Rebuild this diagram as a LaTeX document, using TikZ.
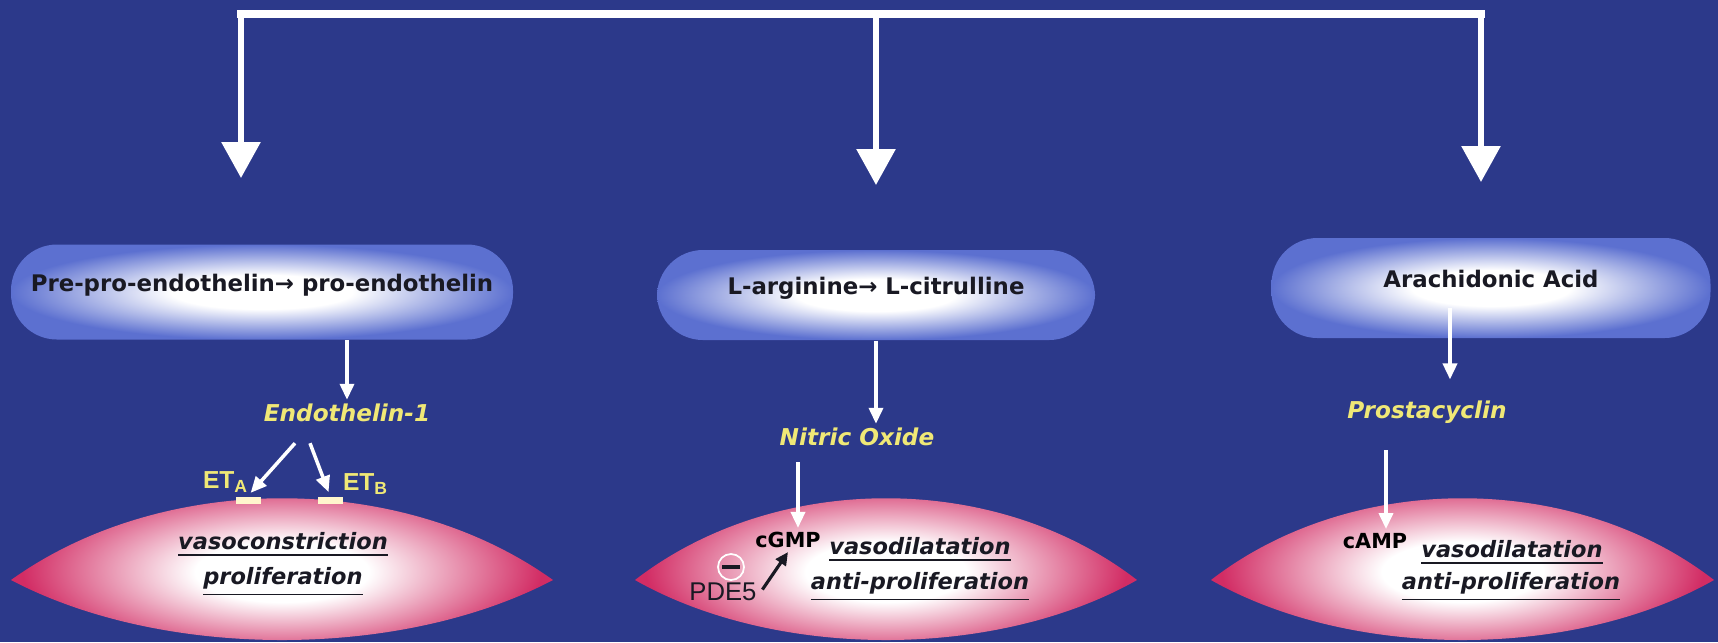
\documentclass[tikz,border=0pt]{standalone}
\usepackage{fontspec}
\setmainfont{DejaVu Sans}
\newfontfamily\arialf{Liberation Sans}
\usetikzlibrary{arrows.meta}

\definecolor{fond}{RGB}{44,57,138}
\definecolor{bleupil}{RGB}{92,112,208}
\definecolor{rose}{RGB}{210,44,100}
\definecolor{jaune}{RGB}{240,232,118}
\definecolor{creme}{RGB}{255,246,205}
\definecolor{encre}{RGB}{25,25,35}

\pgfdeclareradialshading{pilule}{\pgfpoint{0bp}{0bp}}{color(0bp)=(white); color(9bp)=(white); color(25bp)=(bleupil); color(50bp)=(bleupil)}
\pgfdeclareradialshading{lentille}{\pgfpoint{0bp}{-2bp}}{color(0bp)=(white); color(8bp)=(white); color(24bp)=(rose); color(50bp)=(rose)}

\begin{document}
\begin{tikzpicture}[x=0.1mm,y=-0.1mm,
  pil/.style={shade,shading=pilule,rounded corners=4.6mm,text=encre,
    font=\fontsize{6.5}{7}\selectfont\bfseries,text height=1.8mm,text depth=2mm},
  jaun/.style={text=jaune,inner sep=1pt,font=\fontsize{6.6}{7}\selectfont\bfseries\itshape},
  eff/.style={text=encre,inner sep=1pt,font=\fontsize{6.4}{7}\selectfont\bfseries\itshape},
  msg/.style={text=black,inner sep=1pt,font=\fontsize{5.9}{6}\selectfont\bfseries},
  lab/.style={text=encre,inner sep=1pt,font=\arialf\fontsize{7.3}{8}\selectfont},
  et/.style={text=jaune,inner sep=1pt,font=\arialf\fontsize{7}{8}\selectfont\bfseries},
  recep/.style={fill=creme,minimum width=2.5mm,minimum height=0.7mm,inner sep=0pt},
  moins/.style={circle,draw=white,line width=0.5pt,minimum size=2.6mm,inner sep=0pt,text=encre},
  gros/.style={white,line width=1.7pt,->,>={Triangle[width=3.8mm,length=3.6mm]}},
  fl/.style={white,line width=1pt,->,>={Triangle[width=1.4mm,length=1.6mm]}},
  noir/.style={encre,line width=0.9pt,->,>={Triangle[width=1.2mm,length=1.3mm]}}]

\useasboundingbox (0,0) rectangle (1718,642);
%fond
\fill[fond] (0,0) rectangle (1718,642);

%les trois voies
\coordinate (hg) at (241,14);
\coordinate (hm) at (876,14);
\coordinate (hd) at (1481,14);
\coordinate (tg) at (241,178);
\coordinate (tm) at (876,185);
\coordinate (td) at (1481,182);
\draw[white,line width=2.5pt,line cap=rect] (hg) -- (hd);
\draw[gros] (hg) -- (tg);
\draw[gros] (hm) -- (tm);
\draw[gros] (hd) -- (td);

%cellules
\shade[shading=lentille] (11,580) .. controls (163,471) and (401,471) .. (553,580) .. controls (401,660) and (163,660) .. cycle;
\shade[shading=lentille] (635,580) .. controls (776,471) and (996,471) .. (1137,580) .. controls (996,660) and (776,660) .. cycle;
\shade[shading=lentille] (1211,580) .. controls (1352,471) and (1573,471) .. (1714,580) .. controls (1573,660) and (1352,660) .. cycle;

%endotheline
\node[pil,minimum width=50.2mm,minimum height=9.5mm] (pre) at (262,292) {Pre-pro-endothelin→ pro-endothelin};
\node[jaun] (endo) at (347,413) {Endothelin-1};
\draw[fl] (pre.south -| endo) -- (endo.north);
\node[recep] (recA) at (248,500) {};
\node[recep] (recB) at (330,500) {};
\node[et] (etA) at (226,482) {ET\textsubscript{A}};
\node[et] (etB) at (366,484) {ET\textsubscript{B}};
\draw[fl,shorten >=0.4mm] ([xshift=-5.2mm,yshift=-1.7mm]endo.south) -- (recA.north);
\draw[fl,shorten >=0.4mm] ([xshift=-3.7mm,yshift=-1.7mm]endo.south) -- (recB.north);
\node[eff] (vasoc) at (283,545) {\underline{vasoconstriction}};
\node[eff] (prolif) at (283,582) {\underline{proliferation}};

%NO
\node[pil,minimum width=43.8mm,minimum height=9mm] (larg) at (876,295) {L-arginine→ L-citrulline};
\node[jaun] (no) at (857,437) {Nitric Oxide};
\draw[fl] (larg.south) -- (larg.south |- no.north);
\node[msg] (cgmp) at (788,540) {cGMP};
\coordinate (n1) at (798,462);
\draw[fl] (n1) -- (n1 |- cgmp.north);
\node[moins] (moins) at (731,567) {\rule{1.8mm}{0.45mm}};
\node[lab] (pde) at (723,592) {PDE5};
\draw[noir,shorten <=0.3mm] (pde.east) -- (cgmp.south);
\node[eff] (vasod1) at (920,550) {\underline{vasodilatation}};
\node[eff] (anti1) at (920,587) {\underline{anti-proliferation}};

%prostacycline
\node[pil,minimum width=43.9mm,minimum height=10mm] (arach) at (1491,288) {Arachidonic Acid};
\node[jaun] (prosta) at (1427,412) {Prostacyclin};
\coordinate (a1) at (1450,308);
\draw[fl,shorten >=1.7mm] (a1) -- (a1 |- prosta.north);
\node[msg] (camp) at (1375,541) {cAMP};
\coordinate (p1) at (1386,450);
\draw[fl] (p1) -- (p1 |- camp.north);
\node[eff] (vasod2) at (1512,553) {\underline{vasodilatation}};
\node[eff] (anti2) at (1511,587) {\underline{anti-proliferation}};

\end{tikzpicture}
\end{document}
